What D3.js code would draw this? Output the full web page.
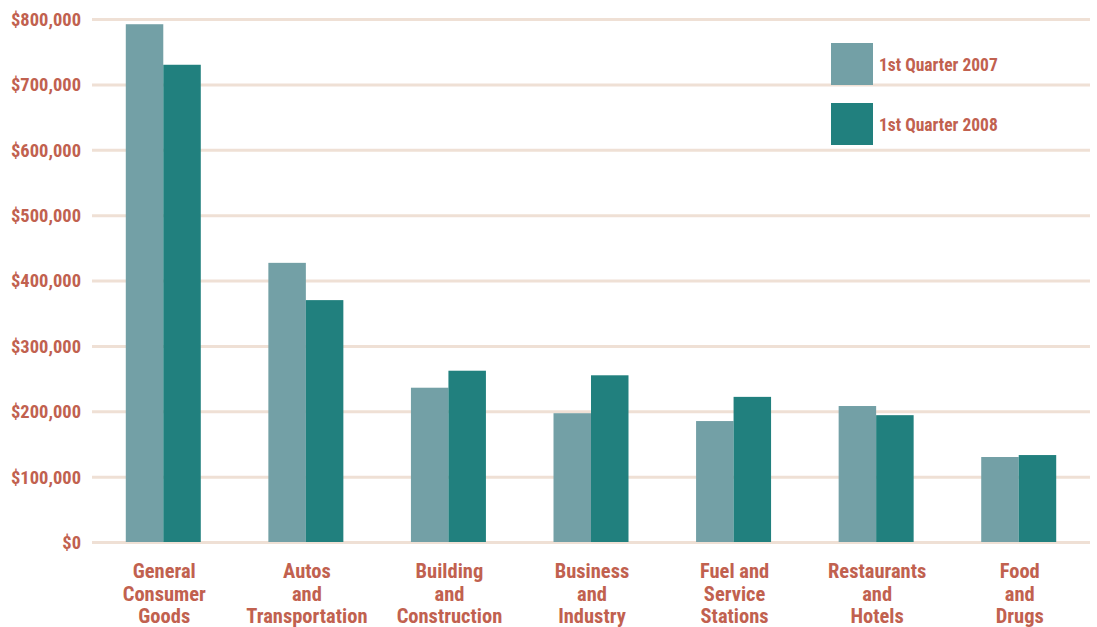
<!DOCTYPE html>
<html>
<head>
<meta charset="utf-8">
<script src="https://cdn.jsdelivr.net/npm/d3@7"></script>
<style>
  body { margin: 0; background: #fff; }
  text { font-family: "Liberation Sans Narrow", "Arial Narrow", "Roboto Condensed", sans-serif; font-weight: bold; }
</style>
</head>
<body>
<div id="chart"></div>
<script>
// Data
var categories = [
  "General Consumer Goods",
  "Autos and Transportation",
  "Building and Construction",
  "Business and Industry",
  "Fuel and Service Stations",
  "Restaurants and Hotels",
  "Food and Drugs"
];
// label lines as shown under each group
var categoryLines = [
  ["General", "Consumer", "Goods"],
  ["Autos", "and", "Transportation"],
  ["Building", "and", "Construction"],
  ["Business", "and", "Industry"],
  ["Fuel and", "Service", "Stations"],
  ["Restaurants", "and", "Hotels"],
  ["Food", "and", "Drugs"]
];
var series = ["1st Quarter 2007", "1st Quarter 2008"];
var q1_2007 = [792000, 427000, 236000, 197000, 185000, 208000, 130000];
var q1_2008 = [730000, 370000, 262000, 255000, 222000, 194000, 133000];
var yTicks = [0, 100000, 200000, 300000, 400000, 500000, 600000, 700000, 800000];

var textColor = "#c1614f";
var gridColor = "#efe0d5";
var colors = ["#73a0a6", "#21807e"];

var W = 1097, H = 627;
var margin = {top: 19, right: 7, bottom: 85, left: 92},
    width = W - margin.left - margin.right,
    height = H - margin.top - margin.bottom;

var svg = d3.select("#chart")
  .append("svg")
  .attr("width", W)
  .attr("height", H)
  .append("g")
  .attr("transform", "translate(" + margin.left + "," + margin.top + ")");

var x = d3.scaleBand()
  .domain(categories)
  .range([0, width])
  .paddingInner(0.474)
  .paddingOuter(0.237);

var xSub = d3.scaleBand()
  .domain(series)
  .range([0, x.bandwidth()])
  .padding(0);

var y = d3.scaleLinear()
  .domain([0, 800000])
  .range([height, 0]);

// Gridlines
var grid = svg.append("g")
  .call(d3.axisLeft(y).tickValues(yTicks).tickSize(-width).tickFormat(""));
grid.select(".domain").remove();
grid.selectAll(".tick line")
  .attr("stroke", gridColor)
  .attr("stroke-width", 3);

// Y axis labels
var yAxis = svg.append("g")
  .attr("transform", "translate(-11,0)")
  .call(d3.axisLeft(y).tickValues(yTicks).tickSize(0).tickPadding(0)
    .tickFormat(function(d) { return "$" + d3.format(",")(d); }));
yAxis.select(".domain").remove();
yAxis.selectAll("text")
  .attr("fill", textColor)
  .style("font-size", "18.5px")
  .attr("dy", "0.35em");

// Bars
var rows = categories.map(function(c, i) {
  return {cat: c, values: [{key: series[0], value: q1_2007[i]}, {key: series[1], value: q1_2008[i]}]};
});

svg.append("g")
  .selectAll("g")
  .data(rows)
  .enter()
  .append("g")
  .attr("transform", function(d) { return "translate(" + x(d.cat) + ",0)"; })
  .selectAll("rect")
  .data(function(d) { return d.values; })
  .enter().append("rect")
  .attr("x", function(d) { return xSub(d.key); })
  .attr("y", function(d) { return y(d.value); })
  .attr("width", xSub.bandwidth())
  .attr("height", function(d) { return height - y(d.value); })
  .attr("fill", function(d, i) { return colors[i]; });

// X labels
var xl = svg.append("g")
  .selectAll("text")
  .data(categories)
  .enter()
  .append("text")
  .attr("text-anchor", "middle")
  .attr("fill", textColor)
  .style("font-size", "20.5px")
  .attr("transform", function(d) { return "translate(" + (x(d) + x.bandwidth() / 2 + 1) + "," + (height + 36) + ")"; });
xl.selectAll("tspan")
  .data(function(d, i) { return categoryLines[i]; })
  .enter()
  .append("tspan")
  .attr("x", 0)
  .attr("y", function(d, i) { return i * 22.5; })
  .text(function(d) { return d; });

// Legend
var legend = svg.selectAll(".legend")
  .data(series)
  .enter()
  .append("g")
  .attr("transform", function(d, i) { return "translate(" + (831 - margin.left) + "," + (43 - margin.top + i * 60) + ")"; });
legend.append("rect")
  .attr("width", 42)
  .attr("height", 42)
  .attr("fill", function(d, i) { return colors[i]; });
legend.append("text")
  .attr("x", 48)
  .attr("y", 28)
  .attr("fill", textColor)
  .style("font-size", "17.5px")
  .text(function(d) { return d; });
</script>
</body>
</html>
